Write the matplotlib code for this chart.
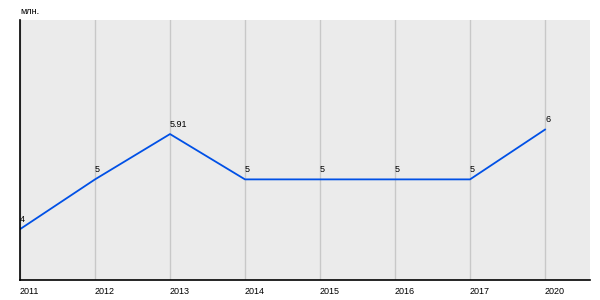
import matplotlib.pyplot as plt

plt.rcParams['font.family'] = ['Liberation Sans', 'DejaVu Sans']

years = ['2011', '2012', '2013', '2014', '2015', '2016', '2017', '2020']
values = [4, 5, 5.91, 5, 5, 5, 5, 6]
labels = ['4', '5', '5.91', '5', '5', '5', '5', '6']

fig = plt.figure(figsize=(6, 3), dpi=100)
ax = fig.add_axes([20 / 600, 20 / 300, 570 / 600, 260 / 300])
ax.set_facecolor('#ebebeb')

x = list(range(len(years)))
ax.plot(x, values, color='#0050e6', lw=1.3)
for xi, v, t in zip(x, values, labels):
    ax.annotate(t, (xi, v), xytext=(0, 4), textcoords='offset points',
                ha='left', va='bottom', fontsize=6.5)

ax.set_xlim(0, 7.6)
ax.set_ylim(2.98, 8.2)
ax.set_xticks(x)
ax.set_xticklabels(years, fontsize=6.5, ha='left')
ax.set_yticks([])
ax.tick_params(axis='x', length=0, pad=5)
ax.grid(axis='x', color='#c8c8c8', lw=1)
ax.set_axisbelow(True)
for s in ['top', 'right']:
    ax.spines[s].set_visible(False)
for s in ['left', 'bottom']:
    ax.spines[s].set_color('black')
    ax.spines[s].set_linewidth(1.2)

fig.text(20 / 600, 1 - 12 / 300, 'млн.', fontsize=6.5, va='center', ha='left')

fig.savefig('out.png', dpi=100)
